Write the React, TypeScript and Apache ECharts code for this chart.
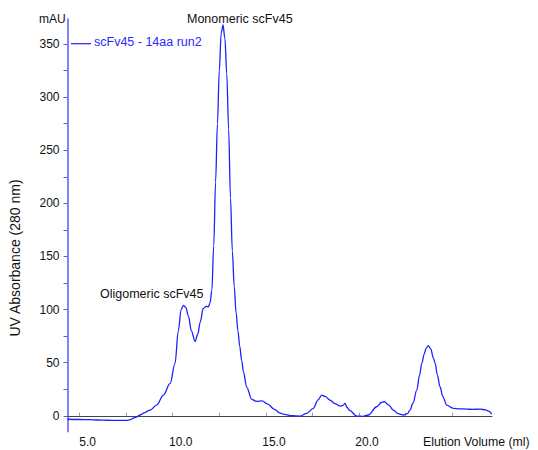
import React, { useEffect, useRef } from "react";
import * as echarts from "echarts";

const volumes = [4.35, 5.0, 5.5, 6.0, 6.5, 7.0, 7.5, 7.7, 8.0, 8.25, 8.5, 8.78, 9.14, 9.5, 9.86, 10.12, 10.3, 10.45, 10.57, 10.7, 10.84, 11.0, 11.2, 11.35, 11.47, 11.64, 11.8, 11.91, 12.0, 12.1, 12.2, 12.3, 12.4, 12.5, 12.6, 12.7, 12.8, 12.9, 13.0, 13.1, 13.2, 13.3, 13.4, 13.5, 13.6, 13.7, 13.8, 13.97, 14.24, 14.5, 14.8, 15.1, 15.46, 15.76, 16.0, 16.4, 16.83, 17.19, 17.55, 17.8, 18.0, 18.2, 18.44, 18.7, 18.98, 19.12, 19.25, 19.35, 19.5, 19.88, 20.2, 20.5, 20.95, 21.2, 21.36, 21.6, 21.84, 22.1, 22.38, 22.6, 22.74, 22.9, 23.1, 23.25, 23.37, 23.5, 23.6, 23.72, 23.85, 24.0, 24.09, 24.2, 24.35, 24.5, 24.71, 25.06, 25.4, 25.78, 26.1, 26.5, 26.8, 26.95, 27.13];

const absorbance = [-3.3, -3.5, -3.6, -4.0, -4.2, -4.4, -4.3, -3.8, -1.5, 0.7, 3, 5.4, 10, 19.5, 30.5, 49, 80, 100, 104, 102, 94, 80, 70, 77, 88, 101, 103, 102.6, 106, 118, 160, 220, 275, 325, 360, 368, 355, 322, 270, 205, 155, 122, 97, 80, 65, 52, 41, 27, 15.5, 13.5, 14, 11, 6, 2.5, 1.3, 0, -0.3, 2.3, 7, 15, 19.5, 18, 14.8, 11.5, 9.1, 9.5, 11.7, 8, 5, -0.3, -0.5, 0.7, 8.5, 12.5, 13.2, 10, 5.4, 2, 0.7, 2, 5.4, 12, 24.2, 38, 49.3, 58, 63.5, 66, 63, 54, 49.3, 39, 27.3, 18, 10, 7, 6.5, 6.3, 6, 6.3, 5.5, 4.4, 1.6];

const xLabelValues = [5, 10, 15, 20];
const xTickValues = [5, 7.5, 10, 12.5, 15, 17.5, 20, 22.5, 25];
const yLabelValues = [0, 50, 100, 150, 200, 250, 300, 350];
const yTickValues = [0, 25, 50, 75, 100, 125, 150, 175, 200, 225, 250, 275, 300, 325, 350];

const seriesName = "scFv45 - 14aa run2";
const xTitle = "Elution Volume (ml)";
const yTitle = "UV Absorbance (280 nm)";
const yUnit = "mAU";
const peakLabels = ["Monomeric scFv45", "Oligomeric scFv45"];

const FONT = "'Liberation Sans', Arial, sans-serif";

export default function App() {
  const ref = useRef<HTMLDivElement>(null);
  useEffect(() => {
    if (!ref.current) return;
    const chart = echarts.init(ref.current, null, { renderer: "svg" });
    const data = volumes.map((v, i) => [v, absorbance[i]]);
    chart.setOption({
      animation: false,
      backgroundColor: "#ffffff",
      textStyle: { fontFamily: FONT },
      grid: { left: 67.5, right: 46, top: 19, bottom: 18.3, containLabel: false },
      xAxis: {
        type: "value",
        min: 4.35,
        max: 27.14,
        axisLine: { show: true, lineStyle: { color: "#444444", width: 1 } },
        axisTick: { show: true, inside: true, length: 3, customValues: xTickValues, lineStyle: { color: "#999999" } },
        axisLabel: {
          customValues: xLabelValues,
          formatter: (v: number) => v.toFixed(1),
          color: "#111111",
          fontSize: 12,
          fontFamily: FONT,
          margin: 4,
          padding: [0, 0, 0, 16],
        },
        splitLine: { show: false },
      },
      yAxis: {
        type: "value",
        min: -15,
        max: 373.5,
        axisLine: { show: true, lineStyle: { color: "#5a5aff", width: 1.5 } },
        axisTick: { show: true, inside: false, length: 4, customValues: yTickValues, lineStyle: { color: "#5a5aff" } },
        axisLabel: {
          customValues: yLabelValues,
          color: "#111111",
          fontSize: 12,
          fontFamily: FONT,
          margin: 8,
        },
        splitLine: { show: false },
      },
      series: [
        {
          type: "line",
          name: seriesName,
          data,
          showSymbol: false,
          smooth: 0.35,
          smoothMonotone: "x",
          lineStyle: { color: "#1f1fff", width: 1.3 },
        },
      ],
      graphic: [
        { type: "text", left: 39, top: 13, style: { text: yUnit, font: `12px ${FONT}`, fill: "#111111" } },
        {
          type: "text",
          x: 15,
          y: 258,
          rotation: Math.PI / 2,
          style: { text: yTitle, font: `14px ${FONT}`, fill: "#111111", align: "center", verticalAlign: "middle" },
        },
        { type: "text", x: 423, y: 442, style: { text: xTitle, font: `12.3px ${FONT}`, fill: "#111111", align: "left", verticalAlign: "middle" } },
        { type: "line", shape: { x1: 71, y1: 43.7, x2: 91, y2: 43.7 }, style: { stroke: "#1f1fff", lineWidth: 1.2 } },
        { type: "text", x: 94, y: 42, style: { text: seriesName, font: `12.5px ${FONT}`, fill: "#2a2aff", align: "left", verticalAlign: "middle" } },
        { type: "text", x: 187, y: 19, style: { text: peakLabels[0], font: `12.5px ${FONT}`, fill: "#111111", align: "left", verticalAlign: "middle" } },
        { type: "text", x: 100, y: 294, style: { text: peakLabels[1], font: `12.5px ${FONT}`, fill: "#111111", align: "left", verticalAlign: "middle" } },
      ],
    });
    return () => chart.dispose();
  }, []);
  return <div ref={ref} style={{ position: "fixed", left: 0, top: 0, width: 538, height: 450 }} />;
}
